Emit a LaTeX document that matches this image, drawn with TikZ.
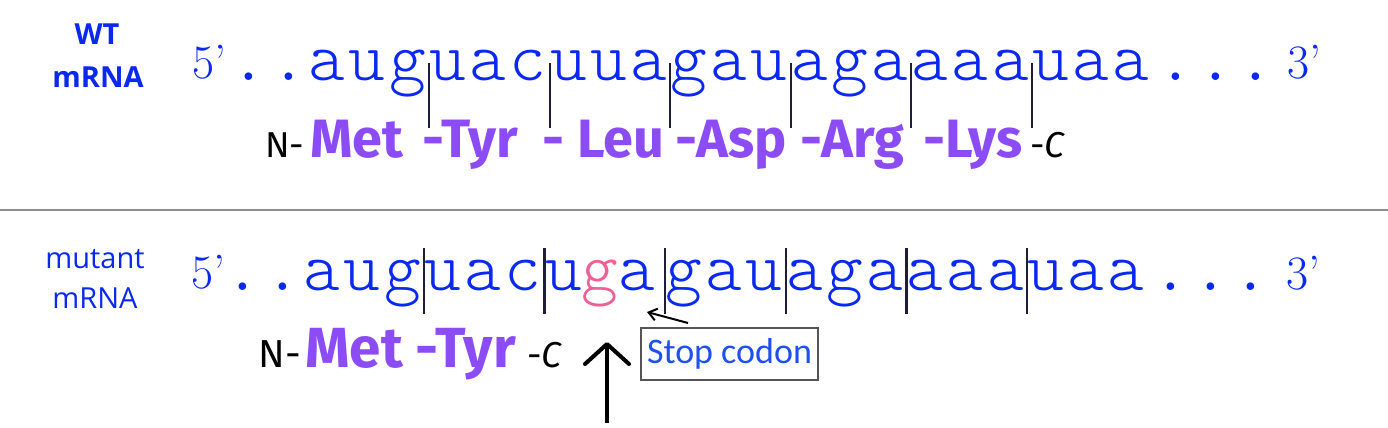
\documentclass[tikz,border=0pt]{standalone}
\usepackage{fontspec}
\usepackage{tikz}
\usetikzlibrary{arrows.meta}

\definecolor{seqblue}{RGB}{10,40,240}
\definecolor{aapurple}{RGB}{140,76,245}
\definecolor{mutpink}{RGB}{238,96,150}
\definecolor{barnavy}{RGB}{30,30,60}
\definecolor{stopblue}{RGB}{30,80,240}
\definecolor{rulegray}{RGB}{140,140,140}
\definecolor{boxgray}{RGB}{85,85,85}

\newfontfamily\seqfont{lmmonolt10-regular.otf}[LetterSpace=4.9]
\newfontfamily\aafont{Fira Sans}
\newfontfamily\labfont{Open Sans}
\newfontfamily\boxfont{Carlito}

\tikzset{
  codon/.style={inner sep=0pt, anchor=base west, text=seqblue, font=\seqfont\fontsize{35}{35}\selectfont},
  prime/.style={inner sep=0pt, anchor=base west, text=seqblue, font=\fontsize{24}{24}\selectfont},
  amino/.style={inner sep=0pt, anchor=base west, text=aapurple, font=\aafont\bfseries\fontsize{27}{27}\selectfont},
  term/.style={inner sep=0pt, anchor=base west, font=\aafont\fontsize{18}{18}\selectfont},
  wtlab/.style={inner sep=0pt, anchor=base, text=seqblue, font=\labfont\bfseries\fontsize{14.5}{14.5}\selectfont},
  mutlab/.style={inner sep=0pt, anchor=base, text=seqblue, font=\labfont\fontsize{14.5}{14.5}\selectfont},
  bar/.style={draw=barnavy, line width=1pt},
  stopbox/.style={draw=boxgray, line width=0.75pt, text=stopblue, inner sep=2pt, minimum width=88.5pt, minimum height=26pt, font=\boxfont\fontsize{18}{18}\selectfont},
}

\begin{document}
\begin{tikzpicture}[x=0.5pt,y=-0.5pt]
  \useasboundingbox (0,0) rectangle (1388,428);
  % wild type
  \node[wtlab] (wtA) at (97,45) {WT};
  \node[wtlab] (wtB) at (98,87) {mRNA};
  \node[prime] (wtfive) at (192,78) {5’};
  \node[codon] (wt0) at (230,80) {..};
  \foreach \c [count=\i] in {aug,uac,uua,gau,aga,aaa,uaa}
    \node[codon] (wt\i) at (187.8+120.6*\i,80) {\c};
  \node[codon] (wt8) at (1157,80) {...};
  \node[prime] (wtthree) at (1287,78) {3’};
  \foreach \i in {2,...,7}
    \draw[bar] ([yshift=8.5pt]wt\i.base west) -- ([yshift=-24pt]wt\i.base west);
  \node[term] (wtN) at (265,157) {N-};
  \foreach \x/\aa [count=\i] in {310/Met,422/-Tyr,542/- Leu,675/-Asp,800/-Arg,923/-Lys}
    \node[amino] (wtaa\i) at (\x,157) {\aa};
  \node[term] (wtC) at (1030,157) {-\itshape C};

  \draw[rulegray, line width=1pt] (0,210) -- (1388,210);

  % mutant
  \node[mutlab] (muA) at (95,268) {mutant};
  \node[mutlab] (muB) at (95,308) {mRNA};
  \node[prime] (mufive) at (191,288) {5’};
  \node[codon] (mu0) at (224,290) {..};
  \foreach \c [count=\i] in {aug,uac,{u\textcolor{mutpink}{g}a},gau,aga,aaa,uaa}
    \node[codon] (mu\i) at (182.8+120.6*\i,290) {\c};
  \node[codon] (mu8) at (1152,290) {...};
  \node[prime] (muthree) at (1286,289) {3’};
  \foreach \i in {2,...,7}
    \draw[bar, line width=1.25pt] ([yshift=21pt]mu\i.base west) -- ([yshift=-12pt]mu\i.base west);
  \node[term, font=\aafont\fontsize{19.5}{19.5}\selectfont] (muN) at (258,367) {N-};
  \node[amino, font=\aafont\bfseries\fontsize{28.3}{28.3}\selectfont] (muaa1) at (305,367) {Met};
  \node[amino, font=\aafont\bfseries\fontsize{28.3}{28.3}\selectfont] (muaa2) at (415,367) {-Tyr};
  \node[term] (muC) at (527,367) {-\itshape C};

  \node[stopbox] (stop) at (729.5,354) {Stop codon};
  \coordinate (ptrtail) at (688,323);
  \coordinate (ptrhead) at (647,312);
  \draw[line width=1pt, -{Straight Barb[length=4pt,width=6pt]}] (ptrtail) -- (ptrhead);
  \coordinate (mutbase) at (607,423);
  \coordinate (mutpoint) at (607,342);
  \draw[line width=2pt, -{Straight Barb[length=10pt,width=22pt,round]}] (mutbase) -- (mutpoint);
\end{tikzpicture}
\end{document}
